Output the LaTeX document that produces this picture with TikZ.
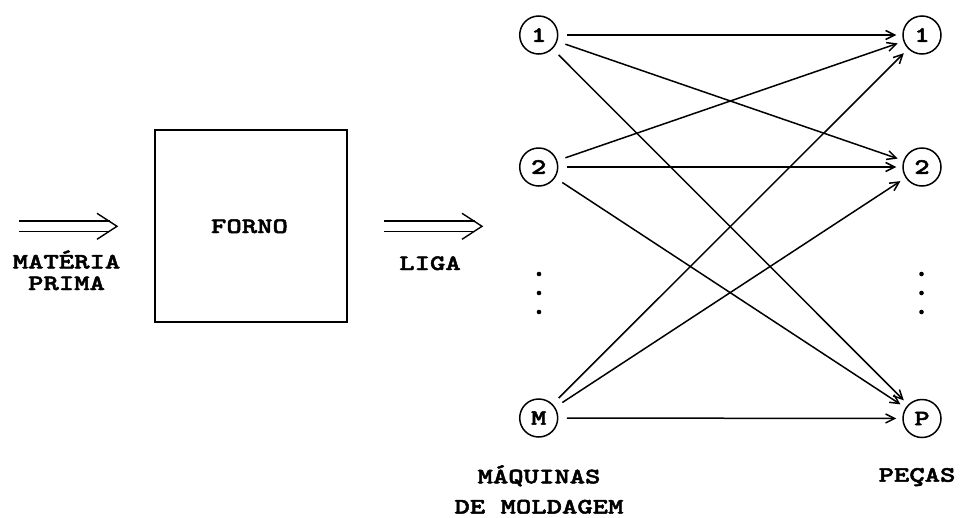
\documentclass[tikz,border=0pt]{standalone}
\usepackage{fontspec}
\newfontfamily\labfont{lmmonolt10-bold.otf}[FakeStretch=1.33,FakeBold=2.2]
\usetikzlibrary{arrows.meta,calc}

\tikzset{
  lab/.style={font=\labfont\fontsize{22}{26}\selectfont, inner sep=0pt, anchor=base},
  vtx/.style={circle, draw, line width=1.5pt, minimum size=38pt, inner sep=0pt,
              font=\labfont\fontsize{22}{26}\selectfont},
  conn/.style={line width=1.5pt, shorten <=8.5pt, shorten >=6pt,
               -{Straight Barb[length=9pt,width=9pt,line width=1.5pt]}},
  dblline/.style={double, double distance=9.2pt, line width=1.4pt, shorten >=7pt},
  head/.style={line width=1.4pt, line join=miter},
  furnace/.style={draw, line width=2pt},
  dot/.style={fill, circle, inner sep=0pt, minimum size=4.6pt}
}

\begin{document}
\begin{tikzpicture}[x=1pt, y=-1pt]
\useasboundingbox (0,0) rectangle (963,517);

% furnace
\draw[furnace] (154.5,130.3) rectangle (346.8,322);
\node[lab] (forno) at (249.5,233) {FORNO};

% raw material input
\coordinate (in0) at (19,226.3);
\coordinate (in1) at (117,226.3);
\draw[dblline] (in0) -- (in1);
\draw[head] ($(in1)+(-20,-13)$) -- (in1) -- ($(in1)+(-20,13)$);
\node[lab] (mat) at (66.5,268.5) {MATÉRIA};
\node[lab] (prima) at (66.5,290) {PRIMA};

% alloy output
\coordinate (out0) at (384,226.3);
\coordinate (out1) at (482,226.3);
\draw[dblline] (out0) -- (out1);
\draw[head] ($(out1)+(-20,-13)$) -- (out1) -- ($(out1)+(-20,13)$);
\node[lab] (liga) at (430,270) {LIGA};

% molding machines
\node[vtx] (m1) at (538.7,35) {1};
\node[vtx] (m2) at (538.7,167) {2};
\node[vtx] (mM) at (538.7,418) {M};
\node[dot] (md1) at (539,274) {};
\node[dot] (md2) at (539,293) {};
\node[dot] (md3) at (539,312) {};

% parts
\node[vtx] (p1) at (922,35) {1};
\node[vtx] (p2) at (922,167) {2};
\node[vtx] (pP) at (922,418.5) {P};
\node[dot] (pd1) at (921.5,274) {};
\node[dot] (pd2) at (921.5,293) {};
\node[dot] (pd3) at (921.5,312) {};

% machine -> part assignments
\foreach \a in {m1,m2,mM}
  \foreach \b in {p1,p2,pP}
    \draw[conn] (\a) -- (\b);

% column labels
\node[lab] (maq) at (539,483.3) {MÁQUINAS};
\node[lab] (mold) at (539,513.5) {DE MOLDAGEM};
\node[lab] (pecas) at (917,481.7) {PEÇAS};
\end{tikzpicture}
\end{document}
